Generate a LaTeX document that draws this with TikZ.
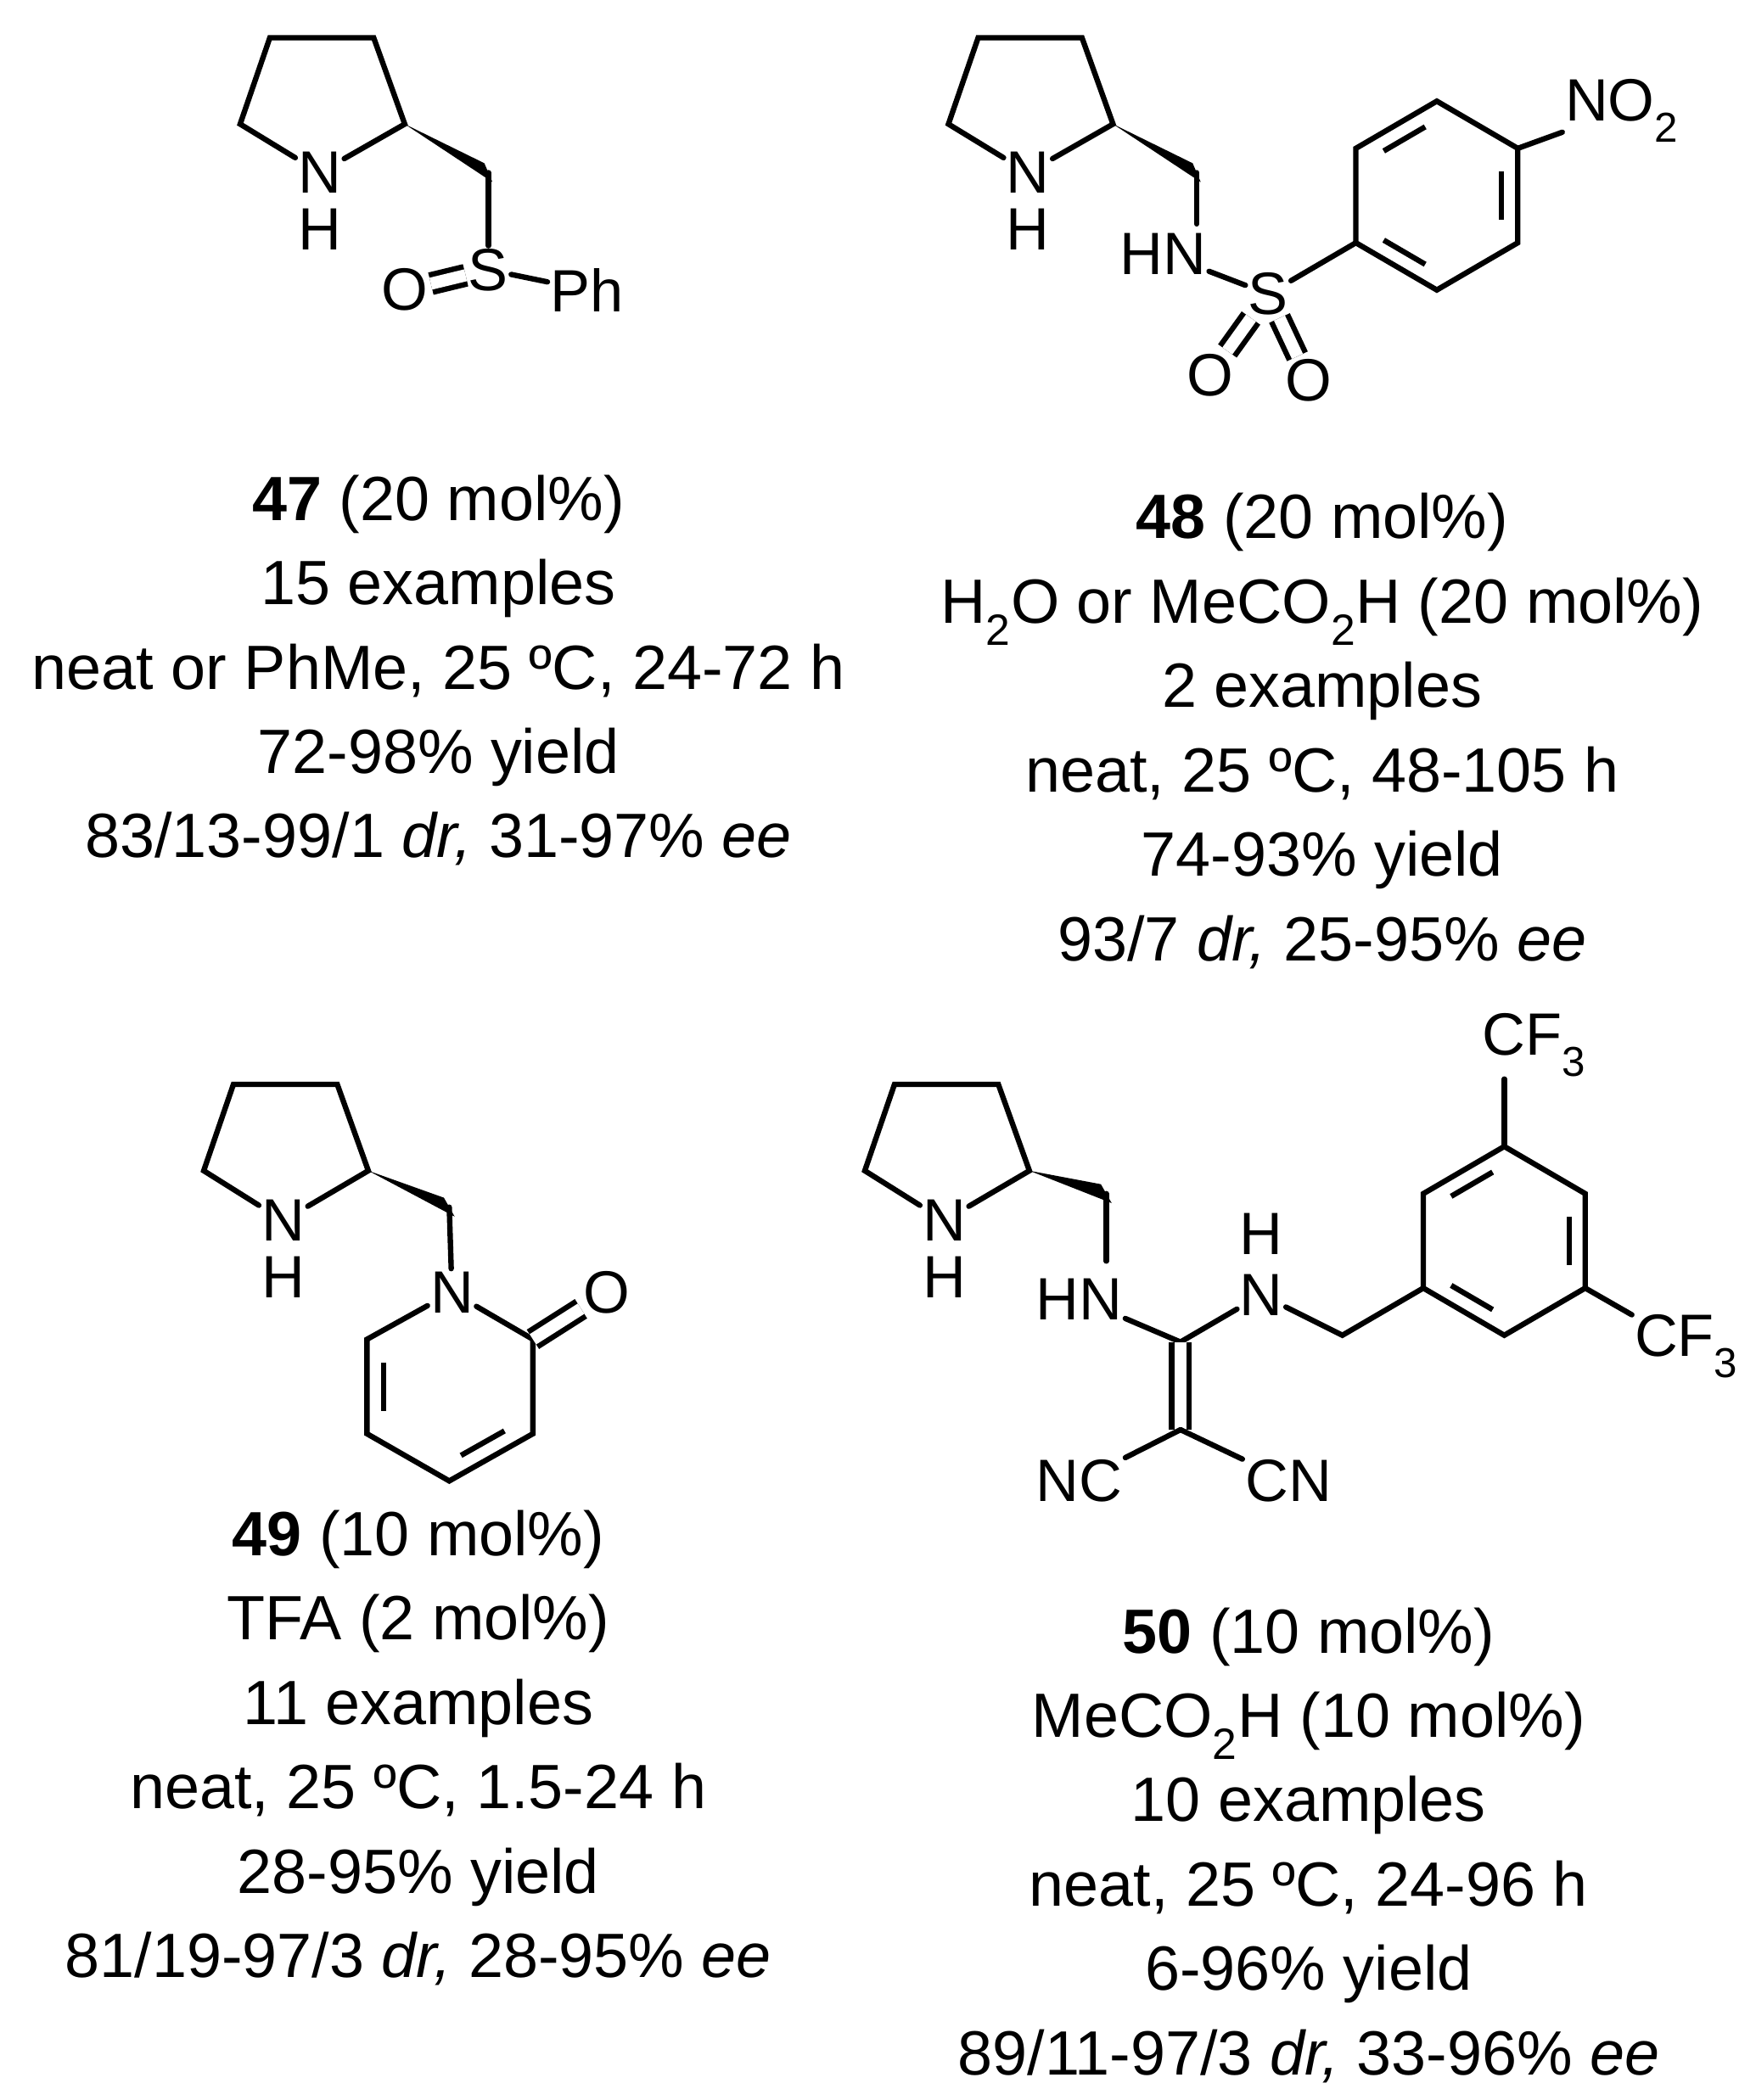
\documentclass[tikz,border=0pt]{standalone}
\usepackage{fontspec}
\setmainfont{Liberation Sans}
\usetikzlibrary{calc}
\begin{document}
\begin{tikzpicture}[x=0.05cm,y=-0.05cm,
  bond/.style={line width=0.2cm,line cap=round},
  dbl/.style={double,double distance=0.45cm,line width=0.2cm},
  atom/.style={inner sep=0.1cm,font=\fontsize{63}{70}\selectfont},
  txt/.style={font=\fontsize{66}{89}\selectfont},
  inr/.style={line width=0.2cm,shorten <=0.5cm,shorten >=0.5cm}]
\useasboundingbox (0,0) rectangle (1301,1557);
% ---------- 47
\node[atom] (n47) at (237,128) {N};
\node[atom] (h47) at (237,170) {H};
\coordinate (a2) at (300,92); \coordinate (a3) at (277,28);
\coordinate (a4) at (200,28); \coordinate (a5) at (178,92);
\coordinate (a6) at (362,128);
\draw[bond] (n47) -- (a2) -- (a3) -- (a4) -- (a5) -- (n47);
\fill ($(a2)$) -- ($(a6)+(-3,-7)$) -- ($(a6)+(3,7)$) -- cycle;
\node[atom] (s47) at (362,200) {S};
\node[atom] (o47) at (300,215) {O};
\node[atom] (ph47) at (435,215) {Ph};
\draw[bond] (a6) -- (s47); \draw[bond] (s47) -- (ph47);
\draw[dbl] (s47) -- (o47);
% ---------- 48
\node[atom] (n48) at (762,128) {N};
\node[atom] (h48) at (762,170) {H};
\coordinate (b2) at (825,92); \coordinate (b3) at (802,28);
\coordinate (b4) at (725,28); \coordinate (b5) at (703,92);
\coordinate (b6) at (887,128);
\draw[bond] (n48) -- (b2) -- (b3) -- (b4) -- (b5) -- (n48);
\fill (b2) -- ($(b6)+(-3,-7)$) -- ($(b6)+(3,7)$) -- cycle;
\node[atom] (hn48) at (862,188) {HN};
\node[atom] (s48) at (940,218) {S};
\node[atom] (o48a) at (897,278) {O};
\node[atom] (o48b) at (970,282) {O};
\draw[bond] (b6) -- (887,166);
\draw[bond] (hn48) -- (s48);
\draw[dbl] (s48) -- (o48a); \draw[dbl] (s48) -- (o48b);
\coordinate (r1) at (1005,180); \coordinate (r2) at (1005,110);
\coordinate (r3) at (1065,75); \coordinate (r4) at (1125,110);
\coordinate (r5) at (1125,180); \coordinate (r6) at (1065,215);
\coordinate (rc) at (1065,145);
\draw[bond] (r1)--(r2)--(r3)--(r4)--(r5)--(r6)--cycle;
\draw[inr] ($(r2)!0.2!(rc)$) -- ($(r3)!0.2!(rc)$);
\draw[inr] ($(r4)!0.2!(rc)$) -- ($(r5)!0.2!(rc)$);
\draw[inr] ($(r6)!0.2!(rc)$) -- ($(r1)!0.2!(rc)$);
\draw[bond] (s48) -- (r1);
\node[atom,anchor=west] (no2) at (1158,82) {NO\textsubscript{2}};
\draw[bond] (r4) -- (no2);
% ---------- 49
\node[atom] (n49) at (210,905) {N};
\node[atom] (h49) at (210,947) {H};
\coordinate (c2) at (273,868); \coordinate (c3) at (250,804);
\coordinate (c4) at (173,804); \coordinate (c5) at (151,868);
\coordinate (c6) at (333,895);
\draw[bond] (n49) -- (c2) -- (c3) -- (c4) -- (c5) -- (n49);
\fill (c2) -- ($(c6)+(-4,-7)$) -- ($(c6)+(4,7)$) -- cycle;
\node[atom] (np) at (335,958) {N};
\node[atom] (op) at (450,958) {O};
\draw[bond] (c6) -- (np);
\coordinate (p2) at (395,993); \coordinate (p3) at (395,1063);
\coordinate (p4) at (333,1098); \coordinate (p5) at (272,1063);
\coordinate (p6) at (272,993); \coordinate (pc) at (333,1028);
\draw[bond] (np) -- (p2) -- (p3) -- (p4) -- (p5) -- (p6) -- (np);
\draw[dbl] (p2) -- (op);
\draw[inr] ($(p5)!0.2!(pc)$) -- ($(p6)!0.2!(pc)$);
\draw[inr] ($(p3)!0.2!(pc)$) -- ($(p4)!0.2!(pc)$);
% ---------- 50
\node[atom] (n50) at (700,905) {N};
\node[atom] (h50) at (700,947) {H};
\coordinate (d2) at (763,868); \coordinate (d3) at (740,804);
\coordinate (d4) at (663,804); \coordinate (d5) at (641,868);
\coordinate (d6) at (820,885);
\draw[bond] (n50) -- (d2) -- (d3) -- (d4) -- (d5) -- (n50);
\fill (d2) -- ($(d6)+(-4,-7)$) -- ($(d6)+(4,7)$) -- cycle;
\node[atom] (hn50) at (800,963) {HN};
\node[atom] (nh50) at (935,960) {N};
\node[atom] (hh50) at (935,915) {H};
\coordinate (e1) at (875,995); \coordinate (e2) at (875,1060);
\draw[bond] (d6) -- (820,935);
\draw[bond] (hn50) -- (e1) -- (nh50);
\draw[dbl] (e1) -- (e2);
\node[atom] (nc) at (800,1098) {NC};
\node[atom] (cn) at (955,1098) {CN};
\draw[bond] (e2) -- (nc); \draw[bond] (e2) -- (cn);
\coordinate (f0) at (995,990);
\coordinate (f1) at (1055,955); \coordinate (f2) at (1055,885);
\coordinate (f3) at (1115,850); \coordinate (f4) at (1175,885);
\coordinate (f5) at (1175,955); \coordinate (f6) at (1115,990);
\coordinate (fc) at (1115,920);
\draw[bond] (nh50) -- (f0) -- (f1);
\draw[bond] (f1)--(f2)--(f3)--(f4)--(f5)--(f6)--cycle;
\draw[inr] ($(f2)!0.2!(fc)$) -- ($(f3)!0.2!(fc)$);
\draw[inr] ($(f4)!0.2!(fc)$) -- ($(f5)!0.2!(fc)$);
\draw[inr] ($(f6)!0.2!(fc)$) -- ($(f1)!0.2!(fc)$);
\node[atom] (cf1) at (1137,775) {CF\textsubscript{3}};
\node[atom] (cf2) at (1250,998) {CF\textsubscript{3}};
\draw[bond] (f3) -- (1115,800);
\draw[bond] (f5) -- (cf2);
% ---------- texts
\node[txt,align=center] (t47) at (325,497) {\textbf{47} (20 mol\%)\\15 examples\\neat or PhMe, 25 ºC, 24-72 h\\72-98\% yield\\83/13-99/1 \textit{dr,} 31-97\% \textit{ee}};
\node[txt,align=center] (t48) at (980,542) {\textbf{48} (20 mol\%)\\H\textsubscript{2}O or MeCO\textsubscript{2}H (20 mol\%)\\2 examples\\neat, 25 ºC, 48-105 h\\74-93\% yield\\93/7 \textit{dr,} 25-95\% \textit{ee}};
\node[txt,align=center] (t49) at (310,1296) {\textbf{49} (10 mol\%)\\TFA (2 mol\%)\\11 examples\\neat, 25 ºC, 1.5-24 h\\28-95\% yield\\81/19-97/3 \textit{dr,} 28-95\% \textit{ee}};
\node[txt,align=center] (t50) at (970,1368) {\textbf{50} (10 mol\%)\\MeCO\textsubscript{2}H (10 mol\%)\\10 examples\\neat, 25 ºC, 24-96 h\\6-96\% yield\\89/11-97/3 \textit{dr,} 33-96\% \textit{ee}};
\end{tikzpicture}
\end{document}
